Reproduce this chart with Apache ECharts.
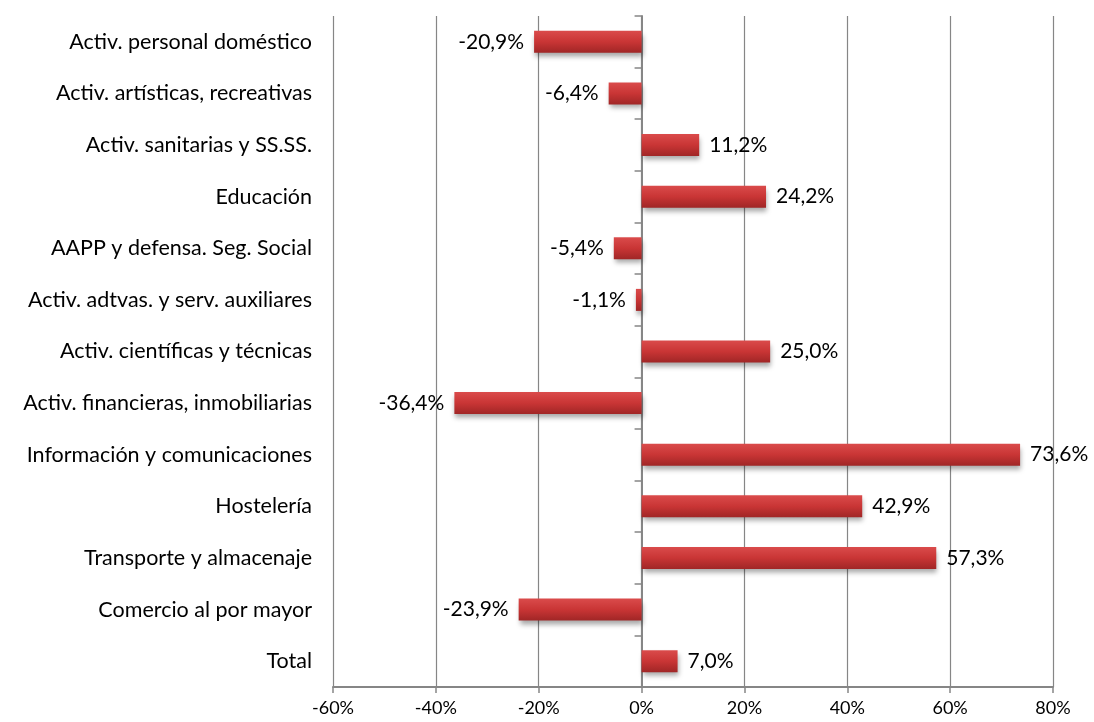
<!DOCTYPE html>
<html><head><meta charset="utf-8">
<script src="https://cdn.jsdelivr.net/npm/echarts@6/dist/echarts.min.js"></script>
<style>html,body{margin:0;padding:0;background:#fff}#c{width:1094px;height:722px}</style>
</head><body><div id="c"></div>
<script>
var categories = ["Activ. personal doméstico","Activ. artísticas, recreativas","Activ. sanitarias y SS.SS.","Educación","AAPP y defensa. Seg. Social","Activ. adtvas. y serv. auxiliares","Activ. científicas y técnicas","Activ. financieras, inmobiliarias","Información y comunicaciones","Hostelería","Transporte y almacenaje","Comercio al por mayor","Total"];
var values = [-20.9,-6.4,11.2,24.2,-5.4,-1.1,25.0,-36.4,73.6,42.9,57.3,-23.9,7.0];
var xTicks = [-60,-40,-20,0,20,40,60,80];

var FONT = 'Lato';
var chart = echarts.init(document.getElementById('c'));
var barColor = new echarts.graphic.LinearGradient(0,0,0,1,[
  {offset:0,color:'#da4b4b'},{offset:0.5,color:'#c93535'},{offset:1,color:'#a02626'}]);
chart.setOption({
  animation:false,
  grid:{left:333,right:41,top:16,bottom:35,containLabel:false,outerBoundsMode:'none'},
  xAxis:{type:'value',min:xTicks[0],max:xTicks[xTicks.length-1],interval:20,position:'bottom',
    axisLine:{show:true,onZero:false,lineStyle:{color:'#868686',width:2}},
    axisTick:{show:true,length:6,lineStyle:{color:'#868686',width:1.5}},
    axisLabel:{formatter:'{value}%',color:'#000',fontSize:18,fontFamily:FONT,margin:12},
    splitLine:{show:true,lineStyle:{color:'#868686',width:1.2}}},
  yAxis:{type:'category',data:categories,inverse:true,position:'left',
     axisLine:{show:true,onZero:true,lineStyle:{color:'#868686',width:2}},
     axisTick:{show:true,length:7,lineStyle:{color:'#868686',width:1.5}},
     axisLabel:{color:'#000',fontSize:21.5,fontFamily:FONT,margin:21}},
  series:[{type:'bar',barWidth:22,
    data:values.map(function(v){return {value:v,label:{position:v>=0?'right':'left'}};}),
    itemStyle:{color:barColor,shadowColor:'rgba(0,0,0,0.35)',shadowBlur:5,shadowOffsetY:4,shadowOffsetX:1},
    label:{show:true,distance:10,color:'#000',fontSize:21,fontFamily:FONT,
      formatter:function(p){return p.value.toFixed(1).replace('.',',')+'%';}}
  }]
});
</script></body></html>
